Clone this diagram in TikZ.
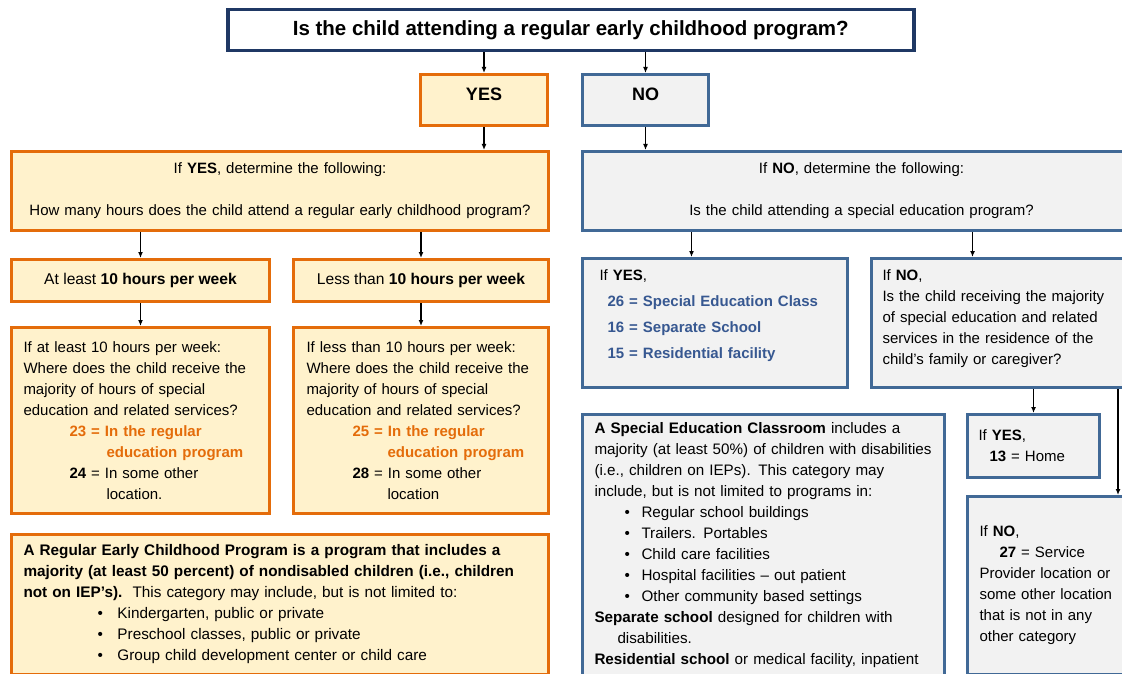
\documentclass[tikz,border=0pt]{standalone}
\usepackage{fontspec}
\setmainfont{Liberation Sans}
\usetikzlibrary{arrows.meta}

\definecolor{ecorange}{RGB}{228,108,10}
\definecolor{eccream}{RGB}{255,242,204}
\definecolor{ecblue}{RGB}{65,105,150}
\definecolor{ecgray}{RGB}{242,242,242}
\definecolor{ecnavy}{RGB}{31,56,100}
\definecolor{ectext}{RGB}{55,88,145}

\tikzset{every picture/.style={line width=0.75pt}}
\tikzset{
  yesbox/.style={draw=ecorange, fill=eccream, line width=3pt, anchor=north west, inner sep=0pt},
  nobox/.style={draw=ecblue, fill=ecgray, line width=3pt, anchor=north west, inner sep=0pt},
  arr/.style={-{Latex[length=6pt,width=5pt]}, line width=1.2pt},
  txt/.style={font=\fontsize{#1}{21}\selectfont},
  txt/.default=14
}

\begin{document}
\begin{tikzpicture}[x=1pt,y=1pt,yscale=-1]
\useasboundingbox (0,0) rectangle (1122,674);

%Shape: Rectangle [id:top]
\node [draw=ecnavy, fill=white, line width=3.5pt, anchor=north west, inner sep=0pt,
  minimum width=686, minimum height=41, font=\fontsize{20.5}{21}\bfseries] (top) at (226,8)
  {Is the child attending a regular early childhood program?};
%Shape: Rectangle [id:yes]
\node [yesbox, minimum width=127, minimum height=51, font=\fontsize{18}{21}\bfseries, text depth=12pt] (yes) at (419,73) {YES};
%Shape: Rectangle [id:no]
\node [nobox, minimum width=126, minimum height=51, font=\fontsize{18}{21}\bfseries, text depth=12pt] (no) at (581,73) {NO};

%Shape: Rectangle [id:bigyes]
\node [yesbox, minimum width=537, minimum height=79, text width=517, align=center, txt=15] (bigyes) at (10,150)
  {If \textbf{YES}, determine the following:\\[21pt]
   How many hours does the child attend a regular early childhood program?};
%Shape: Rectangle [id:bigno]
\node [nobox, minimum width=558, minimum height=79, text width=538, align=center, txt=15] (bigno) at (581,150)
  {If \textbf{NO}, determine the following:\\[21pt]
   Is the child attending a special education program?};

%Shape: Rectangle [id:atleast]
\node [yesbox, minimum width=258, minimum height=42, txt=15.6] (atleast) at (10,258)
  {At least \textbf{10 hours per week}};
%Shape: Rectangle [id:less]
\node [yesbox, minimum width=255, minimum height=42, txt=15.6] (less) at (292,258)
  {Less than \textbf{10 hours per week}};

%Shape: Rectangle [id:leftq]
\node [yesbox, minimum width=258, minimum height=186, text width=234, align=left, txt=15] (leftq) at (10,326)
  {If at least 10 hours per week:\\
   Where does the child receive the\\
   majority of hours of special\\
   education and related services?\\
   \hspace*{46pt}{\color{ecorange}\bfseries 23 = In the regular}\\
   \hspace*{83pt}{\color{ecorange}\bfseries education program}\\
   \hspace*{46pt}\textbf{24} = In some other\\
   \hspace*{83pt}location.};
%Shape: Rectangle [id:rightq]
\node [yesbox, minimum width=255, minimum height=186, text width=229, align=left, txt=15] (rightq) at (292,326)
  {If less than 10 hours per week:\\
   Where does the child receive the\\
   majority of hours of special\\
   education and related services?\\
   \hspace*{46pt}{\color{ecorange}\bfseries 25 = In the regular}\\
   \hspace*{81pt}{\color{ecorange}\bfseries education program}\\
   \hspace*{46pt}\textbf{28} = In some other\\
   \hspace*{81pt}location};

%Shape: Rectangle [id:reg]
\node [yesbox, minimum width=537, minimum height=140, text width=513, align=left, txt=15.3] (reg) at (10,533)
  {\textbf{A Regular Early Childhood Program is a program that includes a}\\
   \textbf{majority (at least 50 percent) of nondisabled children (i.e., children}\\
   \textbf{not on IEP’s).}\ \ This category may include, but is not limited to:\\
   \hspace*{74pt}\makebox[20pt][l]{•}Kindergarten, public or private\\
   \hspace*{74pt}\makebox[20pt][l]{•}Preschool classes, public or private\\
   \hspace*{74pt}\makebox[20pt][l]{•}Group child development center or child care};

%Shape: Rectangle [id:sped]
\node [nobox, minimum width=265, minimum height=129, text width=231, align=left,
  font=\fontsize{15}{26}\selectfont, text depth=95pt] (sped) at (581,257)
  {If \textbf{YES},\\
   {\color{ectext}\bfseries\hspace*{8pt}26 = Special Education Class}\\
   {\color{ectext}\bfseries\hspace*{8pt}16 = Separate School}\\
   {\color{ectext}\bfseries\hspace*{8pt}15 = Residential facility}};
%Shape: Rectangle [id:nq]
\node [nobox, minimum width=269, minimum height=129, text width=247, align=left, txt=15, text depth=96pt] (nq) at (870,257)
  {If \textbf{NO},\\
   Is the child receiving the majority\\
   of special education and related\\
   services in the residence of the\\
   child’s family or caregiver?};

%Shape: Rectangle [id:spclass]
\node [nobox, minimum width=362, minimum height=262, text width=338, align=left, txt=15.2] (spclass) at (581,413)
  {\textbf{A Special Education Classroom} includes a\\
   majority (at least 50\%) of children with disabilities\\
   (i.e., children on IEPs). This category may\\
   include, but is not limited to programs in:\\
   \hspace*{30pt}\makebox[17pt][l]{•}Regular school buildings\\
   \hspace*{30pt}\makebox[17pt][l]{•}Trailers. Portables\\
   \hspace*{30pt}\makebox[17pt][l]{•}Child care facilities\\
   \hspace*{30pt}\makebox[17pt][l]{•}Hospital facilities – out patient\\
   \hspace*{30pt}\makebox[17pt][l]{•}Other community based settings\\
   \textbf{Separate school} designed for children with\\
   \hspace*{23pt}disabilities.\\
   \textbf{Residential school} or medical facility, inpatient};

%Shape: Rectangle [id:home]
\node [nobox, minimum width=132, minimum height=63, text width=110, align=left, txt=15] (home) at (966,413)
  {If \textbf{YES},\\
   \hspace*{11pt}\textbf{13} = Home};
%Shape: Rectangle [id:other]
\node [nobox, minimum width=173, minimum height=178, text width=149, align=left, txt=15] (other) at (966,495)
  {If \textbf{NO},\\
   \hspace*{20pt}\textbf{27} = Service\\
   Provider location or\\
   some other location\\
   that is not in any\\
   other category};

% connector end points off the box centres
\coordinate (spedin) at ([xshift=-23.5]sped.north);
\coordinate (nqin) at ([xshift=-33.5]nq.north);
\coordinate (othin) at ([xshift=-24]nq.south east);

%Straight Lines
\draw [arr] (top.south -| yes.north) -- (yes.north);
\draw [arr] (top.south -| no.north) -- (no.north);
\draw [arr] (yes.south) -- (yes.south |- bigyes.north);
\draw [arr] (no.south) -- (no.south |- bigno.north);
\draw [arr] (bigyes.south -| atleast.north) -- (atleast.north);
\draw [arr] (bigyes.south -| less.north) -- (less.north);
\draw [arr] (atleast.south) -- (leftq.north);
\draw [arr] (less.south) -- (rightq.north);
\draw [arr] (spedin |- bigno.south) -- (spedin);
\draw [arr] (nqin |- bigno.south) -- (nqin);
\draw [arr] (nq.south -| home.north) -- (home.north);
\draw [arr] (othin) -- (othin |- other.north);
\end{tikzpicture}
\end{document}
